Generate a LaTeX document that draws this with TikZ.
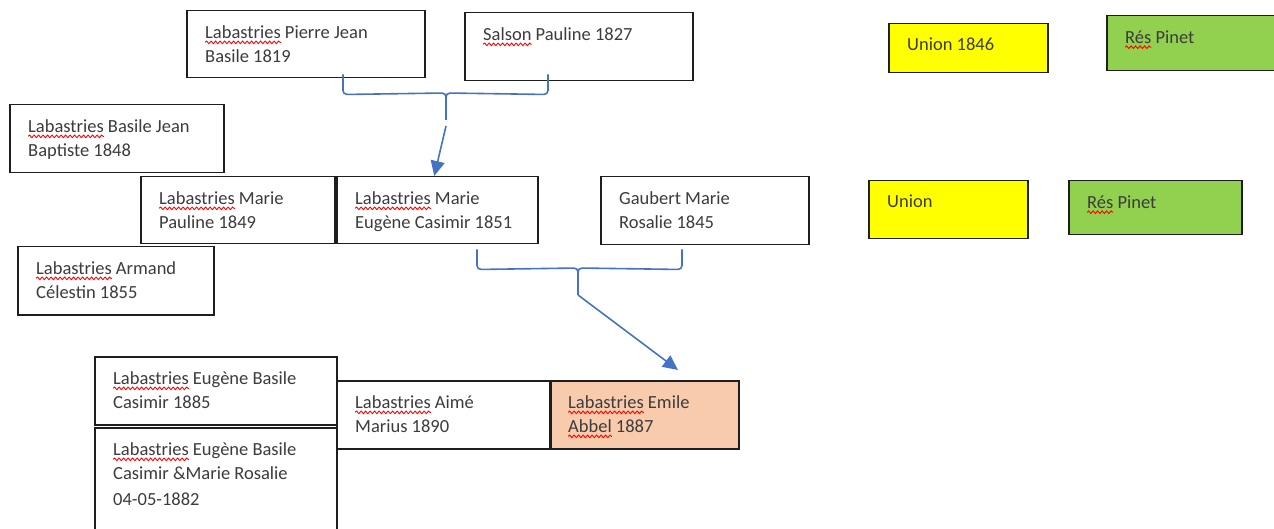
\documentclass[tikz,border=0pt]{standalone}
\usepackage{fontspec}
\setmainfont{Carlito}
\usepackage{tikz}
\usetikzlibrary{positioning,arrows.meta,calc,decorations.pathmorphing}
\definecolor{trait}{RGB}{68,114,196}
\definecolor{encre}{RGB}{60,60,60}
\definecolor{cadre}{RGB}{30,30,30}
\definecolor{jaune}{RGB}{255,255,0}
\definecolor{vert}{RGB}{146,208,80}
\definecolor{peche}{RGB}{248,203,173}
\newlength\sicw
\newcommand\sic[1]{\setbox0=\hbox{#1}\setlength\sicw{\wd0}\leavevmode\rlap{\box0}%
  \tikz[reset cm,baseline=0pt]{\useasboundingbox (0pt,0pt) rectangle (\sicw,0pt);
    \draw[red, line width=0.9pt, decorate, decoration={snake, amplitude=1.3pt, segment length=4.5pt}]
      (0pt,-3.8pt) -- (\sicw,-3.8pt);}}
\tikzset{
  fiche/.style ={draw=cadre, line width=1.5pt, anchor=north west, inner sep=0pt, fill=white},
  nom/.style   ={anchor=north west, inner sep=0pt, xshift=19pt, yshift=-15.5pt, align=left,
                 font=\fontsize{18.5}{24}\selectfont, text=encre},
  acc/.style   ={draw=trait, line width=1.6pt, rounded corners=4pt},
  fl/.style    ={-{Triangle[length=15pt,width=14pt]}, draw=trait, line width=1.6pt},
}
\begin{document}
\begin{tikzpicture}[x=1pt,y=-1pt]
\clip (0,0) rectangle (1274,529);
% parents
\node[fiche, minimum width=238pt, minimum height=67pt,
      label={[nom]north west:{\sic{Labastries} Pierre Jean\\Basile 1819}}] (pierre) at (186,10) {};
\node[fiche, minimum width=228pt, minimum height=68pt,
      label={[nom]north west:{\sic{Salson} Pauline 1827}}] (salson) at (464,12) {};
% enfants
\node[fiche, minimum width=214pt, minimum height=68pt,
      label={[nom]north west:{\sic{Labastries} Basile Jean\\Baptiste 1848}}] (basile) at (9,104) {};
\node[fiche, minimum width=194pt, minimum height=67pt,
      label={[nom]north west:{\sic{Labastries} Marie\\Pauline 1849}}] (pauline) at (140,176) {};
\node[fiche, minimum width=201pt, minimum height=67pt,
      label={[nom]north west:{\sic{Labastries} Marie\\Eugène Casimir 1851}}] (eugene) at (336,176) {};
\node[fiche, minimum width=208pt, minimum height=68pt,
      label={[nom]north west:{Gaubert Marie\\Rosalie 1845}}] (gaubert) at (600,176) {};
\node[fiche, minimum width=196pt, minimum height=68pt,
      label={[nom]north west:{\sic{Labastries} Armand\\Célestin 1855}}] (armand) at (17,246) {};
% legende
\node[fiche, fill=jaune, minimum width=159pt, minimum height=49pt,
      label={[nom,yshift=1pt]north west:{Union 1846}}] (union1) at (888,23) {};
\node[fiche, fill=vert, minimum width=180pt, minimum height=55pt,
      label={[nom]north west:{\sic{Rés} Pinet}}] (pinet1) at (1106,15) {};
\node[fiche, fill=jaune, minimum width=159pt, minimum height=58pt,
      label={[nom,yshift=1pt]north west:{Union}}] (union2) at (868,180) {};
\node[fiche, fill=vert, minimum width=173pt, minimum height=54pt,
      label={[nom]north west:{\sic{Rés} Pinet}}] (pinet2) at (1068,180) {};
% petits-enfants
\node[fiche, minimum width=242pt, minimum height=68pt,
      label={[nom]north west:{\sic{Labastries} Eugène Basile\\Casimir 1885}}] (casimir) at (94,356) {};
\node[fiche, minimum width=242pt, minimum height=115pt,
      label={[nom]north west:{\sic{Labastries} Eugène Basile\\Casimir \&Marie Rosalie\\[2pt]04-05-1882}}] (mariage) at (94,427) {};
\node[fiche, minimum width=213pt, minimum height=68pt,
      label={[nom]north west:{\sic{Labastries} Aimé\\Marius 1890}}] (aime) at (336,380) {};
\node[fiche, fill=peche, minimum width=188pt, minimum height=68pt,
      label={[nom,xshift=-1pt]north west:{\sic{Labastries} Emile\\\sic{Abbel} 1887}}] (emile) at (550,380) {};
% accolades
\coordinate (n1) at (446,93);
\coordinate (n2) at (578,268);
\coordinate (tip2) at (678,370);
\draw[acc] ([xshift=157pt,yshift=4pt]pierre.south west) -- ++(0,20) -- (n1) -- ++(0,27);
\draw[acc] ([xshift=84pt,yshift=7pt]salson.south west) -- ++(0,20) -- (n1) -- ++(0,27);
\draw[fl] ([yshift=-33pt]n1) -- ([xshift=-3pt]eugene.north);
\draw[acc] ([xshift=141pt,yshift=-5pt]eugene.south west) -- ++(0,20) -- (n2) -- ++(0,27);
\draw[acc] ([xshift=82pt,yshift=-4pt]gaubert.south west) -- ++(0,20) -- (n2) -- ++(0,27);
\draw[fl] ([yshift=-27pt]n2) -- (tip2);
\end{tikzpicture}
\end{document}
